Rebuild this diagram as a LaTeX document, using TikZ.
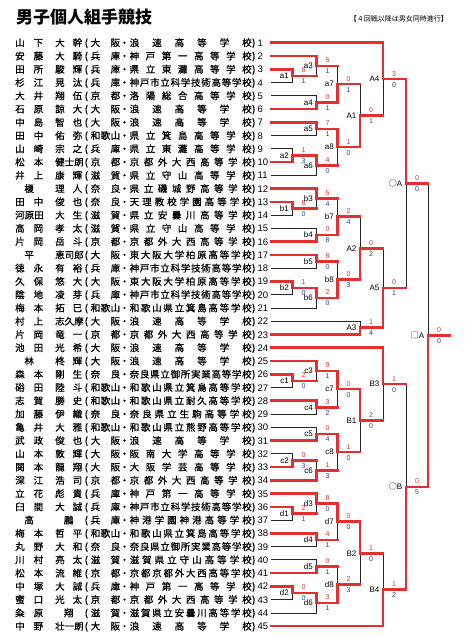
\documentclass[tikz,border=0pt]{standalone}
\usepackage{fontspec}
\setmainfont{Liberation Sans}
\newfontfamily\jp{Noto Sans CJK JP}
\newfontfamily\jpm{Noto Sans CJK JP}[FakeBold=0.8]
\usetikzlibrary{calc}

\definecolor{winred}{RGB}{226,48,48}
\definecolor{ptred}{RGB}{214,52,52}
\definecolor{ptblue}{RGB}{40,64,168}

% spread a run of characters over a fixed width (one character is centred)
\def\sprfirst#1#2\sprend{\if\relax\detokenize{#2}\relax\hfil#1\hfil\else#1\sprrest#2\sprend\fi}
\def\sprrest#1#2\sprend{\hfil#1\if\relax\detokenize{#2}\relax\else\sprrest#2\sprend\fi}
\newcommand\spr[2]{\makebox[#1][s]{\expandafter\sprfirst#2\sprend}}

% one bout: name, guide, upper entry, lower entry, winner (t/b), scores, label
\newcommand\match[8]{%
  \coordinate (#1-t) at (#3 -| #2);
  \coordinate (#1-b) at (#4 -| #2);
  \coordinate (#1) at ($(#1-t)!.5!(#1-b)$);
  \draw[thinln] (#3) -- (#1-t) -- (#1-b) -- (#4);
  \ifcsname won@#3\endcsname\draw[redln] (#3) -- (#1-t);\fi
  \ifcsname won@#4\endcsname\draw[redln] (#4) -- (#1-b);\fi
  \if#5t\draw[redln] (#3) -- (#1-t) -- (#1);\else\draw[redln] (#4) -- (#1-b) -- (#1);\fi
  \node[lbl, anchor=east] (#1-n) at ([xshift=-3.5pt]#1) {#8};
  \node[score, text=ptred] (#1-p) at ([xshift=11pt, yshift=5.5pt]#1) {#6};
  \node[score, text=ptblue] (#1-q) at ([xshift=11pt, yshift=-5.5pt]#1) {#7};
  \expandafter\gdef\csname won@#1\endcsname{}%
}

\begin{document}
\begin{tikzpicture}[x=1pt, y=-1pt,
    nm/.style={inner sep=0pt, anchor=base west, font=\jpm\fontsize{9.5pt}{11pt}\selectfont},
    num/.style={inner sep=0pt, anchor=base west, font=\fontsize{9.5pt}{11pt}\selectfont},
    lbl/.style={inner sep=0pt, font=\fontsize{8pt}{9pt}\selectfont},
    score/.style={inner sep=0pt, font=\fontsize{7pt}{8pt}\selectfont},
    thinln/.style={draw=black!85, line width=0.7pt},
    redln/.style={draw=winred, line width=2.6pt, line cap=rect}
]
\fill[white] (0,0) rectangle (465,638);
\useasboundingbox (0,0) rectangle (465,638);

% Heading
\node[font=\jp\bfseries\fontsize{17pt}{20pt}\selectfont, anchor=west, inner sep=0pt] (title) at (16,17) {男子個人組手競技};
\node[font=\jp\fontsize{7pt}{8pt}\selectfont, anchor=east, inner sep=0pt] (note) at (448,19) {【４回戦以降は男女同時進行】};

% Entries
\foreach \n/\fa/\gi/\pr/\sch in {
  1/山下/大幹/大阪/浪速高等学校,
  2/安藤/大騎/兵庫/神戸第一高等学校,
  3/田所/駿輝/兵庫/県立東灘高等学校,
  4/杉江/晃汰/兵庫/神戸市立科学技術高等学校,
  5/大井/翔伍/京都/洛陽総合高等学校,
  6/石原/諒大/大阪/浪速高等学校,
  7/中島/智也/大阪/浪速高等学校,
  8/田中/佑弥/和歌山/県立箕島高等学校,
  9/山崎/宗之/兵庫/県立東灘高等学校,
  10/松本/健士朗/京都/京都外大西高等学校,
  11/井上/康輝/滋賀/県立守山高等学校,
  12/榎/理人/奈良/県立磯城野高等学校,
  13/田中/俊也/奈良/天理教校学園高等学校,
  14/河原田/大生/滋賀/県立安曇川高等学校,
  15/高岡/孝太/滋賀/県立守山高等学校,
  16/片岡/岳斗/京都/京都外大西高等学校,
  17/平/恵司郎/大阪/東大阪大学柏原高等学校,
  18/徳永/有裕/兵庫/神戸市立科学技術高等学校,
  19/久保/悠大/大阪/東大阪大学柏原高等学校,
  20/陰地/凌芽/兵庫/神戸市立科学技術高等学校,
  21/梅本/拓巳/和歌山/和歌山県立箕島高等学校,
  22/村上/志久摩/大阪/浪速高等学校,
  23/片岡/竜一/京都/京都外大西高等学校,
  24/池田/光希/大阪/浪速高等学校,
  25/林/柊輝/大阪/浪速高等学校,
  26/森本/剛生/奈良/奈良県立御所実業高等学校,
  27/硲田/陸斗/和歌山/和歌山県立箕島高等学校,
  28/志賀/勝史/和歌山/和歌山県立耐久高等学校,
  29/加藤/伊織/奈良/奈良県立生駒高等学校,
  30/亀井/大雅/和歌山/和歌山県立熊野高等学校,
  31/武政/俊也/大阪/浪速高等学校,
  32/山本/敦輝/大阪/阪南大学高等学校,
  33/関本/龍翔/大阪/大阪学芸高等学校,
  34/深江/浩司/京都/京都外大西高等学校,
  35/立花/彪貴/兵庫/神戸第一高等学校,
  36/臼間/大誠/兵庫/神戸市立科学技術高等学校,
  37/高/鵬/兵庫/神港学園神港高等学校,
  38/梅本/哲平/和歌山/和歌山県立箕島高等学校,
  39/丸野/大和/奈良/奈良県立御所実業高等学校,
  40/川村/亮太/滋賀/滋賀県立守山高等学校,
  41/松本/流維/京都/京都京都外大西高等学校,
  42/中塚/大誠/兵庫/神戸第一高等学校,
  43/蜜口/光太/京都/京都外大西高等学校,
  44/粂原/翔/滋賀/滋賀県立安曇川高等学校,
  45/中野/壮一朗/大阪/浪速高等学校}{
  \pgfmathsetmacro\yy{42.7+(\n-1)*13.26}
  \node[nm] (fa\n) at (15,\yy+3.6) {\spr{28pt}{\fa}};
  \node[nm] (gi\n) at (55,\yy+3.6) {\spr{27pt}{\gi}};
  \node[nm] (po\n) at (84.5,\yy+3.6) {(};
  \node[nm] (pr\n) at (90.5,\yy+3.6) {\spr{29.5pt}{\pr}};
  \node[nm, anchor=base] (dt\n) at (124.5,\yy+3.6) {・};
  \node[nm] (sc\n) at (129.5,\yy+3.6) {\spr{122pt}{\sch}};
  \node[nm] (pc\n) at (252,\yy+3.6) {)};
  \node[num] (no\n) at (257.5,\yy+3.6) {\n};
  \coordinate (r\n) at (271,\yy);
}

% Round guides
\coordinate (X1) at (292.5,0);
\coordinate (X2) at (316.5,0);
\coordinate (X3) at (337.5,0);
\coordinate (X4) at (360,0);
\coordinate (X5) at (383,0);
\coordinate (X6) at (406,0);
\coordinate (X7) at (428,0);
\coordinate (X8) at (450,0);

% Block a
\match{a1}{X1}{r3}{r4}{t}{6}{1}{a1}
\match{a2}{X1}{r9}{r10}{b}{1}{3}{a2}
\match{a3}{X2}{r2}{a1}{t}{5}{1}{a3}
\match{a4}{X2}{r5}{r6}{b}{0}{1}{a4}
\match{a5}{X2}{r7}{r8}{t}{7}{1}{a5}
\match{a6}{X2}{a2}{r11}{t}{4}{0}{a6}
\match{a7}{X3}{a3}{a4}{b}{0}{1}{a7}
\match{a8}{X3}{a5}{a6}{t}{1}{0}{a8}
\match{A1}{X4}{a7}{a8}{b}{0}{1}{A1}
\match{A4}{X5}{r1}{A1}{t}{3}{0}{A4}

% Block b
\match{b1}{X1}{r13}{r14}{t}{8}{0}{b1}
\match{b2}{X1}{r19}{r20}{t}{1}{0}{b2}
\match{b3}{X2}{r12}{b1}{t}{5}{4}{b3}
\match{b4}{X2}{r15}{r16}{b}{0}{8}{b4}
\match{b5}{X2}{r17}{r18}{t}{8}{0}{b5}
\match{b6}{X2}{b2}{r21}{t}{2}{0}{b6}
\match{b7}{X3}{b3}{b4}{b}{2}{4}{b7}
\match{b8}{X3}{b5}{b6}{b}{0}{3}{b8}
\match{A2}{X4}{b7}{b8}{b}{0}{2}{A2}
\match{A3}{X4}{r22}{r23}{b}{1}{4}{A3}
\match{A5}{X5}{A2}{A3}{b}{0}{1}{A5}
\match{OA}{X6}{A4}{A5}{t}{0}{0}{{\jp ○}A}

% Block c
\match{c1}{X1}{r26}{r27}{t}{2}{0}{c1}
\match{c2}{X1}{r32}{r33}{b}{0}{3}{c2}
\match{c3}{X2}{r25}{c1}{t}{9}{1}{c3}
\match{c4}{X2}{r28}{r29}{t}{3}{2}{c4}
\match{c5}{X2}{r30}{r31}{b}{0}{4}{c5}
\match{c6}{X2}{c2}{r34}{b}{1}{3}{c6}
\match{c7}{X3}{c3}{c4}{t}{0}{0}{c7}
\match{c8}{X3}{c5}{c6}{t}{1}{0}{c8}
\match{B1}{X4}{c7}{c8}{t}{2}{0}{B1}
\match{B3}{X5}{r24}{B1}{t}{1}{0}{B3}

% Block d
\match{d1}{X1}{r36}{r37}{t}{2}{1}{d1}
\match{d2}{X1}{r42}{r43}{t}{0}{0}{d2}
\match{d3}{X2}{r35}{d1}{t}{8}{0}{d3}
\match{d4}{X2}{r38}{r39}{t}{4}{1}{d4}
\match{d5}{X2}{r40}{r41}{b}{0}{1}{d5}
\match{d6}{X2}{d2}{r44}{t}{3}{1}{d6}
\match{d7}{X3}{d3}{d4}{t}{0}{0}{d7}
\match{d8}{X3}{d5}{d6}{b}{2}{3}{d8}
\match{B2}{X4}{d7}{d8}{t}{1}{0}{B2}
\match{B4}{X5}{B2}{r45}{b}{1}{2}{B4}
\match{OB}{X6}{B3}{B4}{b}{0}{5}{{\jp ○}B}

% Final
\match{SA}{X7}{OA}{OB}{b}{0}{0}{{\jp □}A}
\coordinate (fin) at (SA -| X8);
\draw[redln] (SA) -- (fin);
\end{tikzpicture}
\end{document}
